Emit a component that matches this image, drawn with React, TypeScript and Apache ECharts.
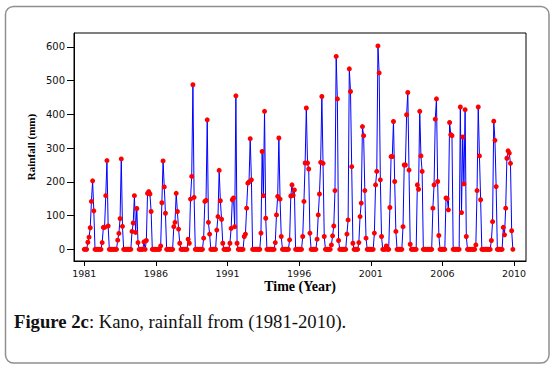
import { useEffect, useRef } from "react";
import * as echarts from "echarts";

// Monthly rainfall (mm), Kano, Jan..Dec for each year
const rain1981 = [0, 0, 0, 21, 36, 64, 142, 203, 114, 0, 0, 0];
const rain1982 = [0, 0, 0, 20, 65, 65, 159, 263, 69, 0, 0, 0];
const rain1983 = [0, 0, 0, 0, 27, 47, 91, 268, 68, 0, 0, 0];
const rain1984 = [0, 0, 0, 0, 53, 78, 159, 50, 121, 20, 0, 0];
const rain1985 = [0, 0, 22, 0, 26, 166, 171, 164, 112, 0, 0, 0];
const rain1986 = [0, 0, 0, 0, 10, 138, 262, 185, 107, 0, 0, 0];
const rain1987 = [0, 0, 0, 67, 80, 166, 112, 60, 18, 0, 0, 0];
const rain1988 = [0, 0, 0, 30, 18, 149, 216, 488, 154, 0, 0, 0];
const rain1989 = [0, 0, 0, 0, 33, 142, 145, 384, 80, 45, 0, 0];
const rain1990 = [0, 0, 0, 57, 97, 234, 144, 89, 18, 0, 0, 0];
const rain1991 = [0, 0, 18, 62, 147, 152, 67, 455, 18, 0, 0, 0];
const rain1992 = [0, 0, 38, 45, 122, 196, 200, 328, 206, 0, 0, 0];
const rain1993 = [0, 0, 0, 0, 48, 290, 159, 409, 92, 0, 0, 0];
const rain1994 = [0, 0, 0, 0, 20, 102, 157, 330, 149, 38, 0, 0];
const rain1995 = [0, 0, 0, 0, 28, 158, 191, 160, 176, 0, 0, 0];
const rain1996 = [0, 0, 0, 38, 142, 256, 419, 256, 238, 48, 0, 0];
const rain1997 = [0, 0, 0, 30, 102, 164, 258, 453, 255, 38, 0, 0];
const rain1998 = [0, 0, 0, 13, 40, 69, 174, 572, 446, 26, 0, 0];
const rain1999 = [0, 0, 0, 0, 45, 87, 535, 468, 245, 18, 0, 0];
const rain2000 = [0, 0, 20, 97, 137, 364, 337, 174, 33, 0, 0, 0];
const rain2001 = [0, 0, 0, 48, 191, 231, 603, 523, 206, 38, 0, 0];
const rain2002 = [0, 10, 0, 0, 124, 275, 275, 379, 201, 53, 0, 0];
const rain2003 = [0, 0, 0, 67, 250, 250, 399, 465, 235, 15, 0, 0];
const rain2004 = [0, 0, 0, 191, 178, 409, 277, 231, 0, 0, 0, 0];
const rain2005 = [0, 0, 0, 0, 122, 191, 386, 446, 201, 41, 0, 0];
const rain2006 = [0, 0, 0, 152, 150, 117, 376, 340, 337, 0, 0, 0];
const rain2007 = [0, 0, 0, 422, 109, 333, 194, 414, 38, 0, 0, 0];
const rain2008 = [0, 0, 0, 0, 13, 174, 422, 277, 147, 0, 0, 0];
const rain2009 = [0, 0, 0, 0, 0, 26, 82, 380, 323, 186, 0, 0];
const rain2010 = [0, 0, 0, 65, 43, 122, 270, 292, 285, 255, 55, 0];

const rainByYear = [
  rain1981, rain1982, rain1983, rain1984, rain1985, rain1986, rain1987, rain1988,
  rain1989, rain1990, rain1991, rain1992, rain1993, rain1994, rain1995, rain1996,
  rain1997, rain1998, rain1999, rain2000, rain2001, rain2002, rain2003, rain2004,
  rain2005, rain2006, rain2007, rain2008, rain2009, rain2010,
];

const xTickIndex = [0, 60, 120, 180, 240, 300, 360];
const xTickLabels = ["1981", "1986", "1991", "1996", "2001", "2006", "2010"];
const yTicks = [0, 100, 200, 300, 400, 500, 600];

export default function App() {
  const ref = useRef<HTMLDivElement>(null);

  useEffect(() => {
    if (!ref.current) return;
    const chart = echarts.init(ref.current, null, { renderer: "svg" });
    const data: number[][] = [];
    rainByYear.forEach((arr, yi) => {
      arr.forEach((v, mi) => data.push([yi * 12 + mi, v]));
    });

    chart.setOption({
      animation: false,
      backgroundColor: "#ffffff",
      grid: {
        left: 74,
        right: 29,
        top: 33,
        bottom: 109,
        show: true,
        borderColor: "#000",
        borderWidth: 1,
      },
      xAxis: {
        type: "value",
        min: -8.6,
        max: 370,
        axisLine: { show: true, onZero: false, lineStyle: { color: "#000", width: 1 } },
        axisTick: {
          show: true,
          customValues: xTickIndex,
          length: 5,
          lineStyle: { color: "#000" },
        },
        axisLabel: {
          customValues: xTickIndex,
          formatter: (v: number) => xTickLabels[xTickIndex.indexOf(v)] ?? "",
          fontFamily: "DejaVu Sans",
          fontSize: 9.5,
          color: "#111",
          margin: 7,
        },
        splitLine: { show: false },
      },
      yAxis: {
        type: "value",
        min: -34.7,
        max: 641.4,
        axisLine: { show: true, onZero: false, lineStyle: { color: "#000", width: 1 } },
        axisTick: {
          show: true,
          customValues: yTicks,
          length: 7,
          lineStyle: { color: "#000" },
        },
        axisLabel: {
          customValues: yTicks,
          formatter: (v: number) => String(v),
          fontFamily: "DejaVu Sans",
          fontSize: 10,
          color: "#111",
          margin: 9,
        },
        splitLine: { show: false },
      },
      series: [
        {
          type: "line",
          data,
          showSymbol: true,
          showAllSymbol: true,
          symbol: "circle",
          symbolSize: 5,
          itemStyle: { color: "#ff0000" },
          lineStyle: { color: "#0000ff", width: 1 },
          z: 3,
        },
      ],
      graphic: [
        {
          type: "rect",
          shape: { x: 5.5, y: 6.5, width: 543.5, height: 356.5, r: 8 },
          style: { fill: "none", stroke: "#8f8f8f", lineWidth: 1.5 },
          silent: true,
          z: -10,
        },
        {
          type: "text",
          x: 31,
          y: 147,
          rotation: Math.PI / 2,
          style: {
            text: "Rainfall (mm)",
            font: "bold 11px 'Liberation Serif', serif",
            fill: "#000",
            align: "center",
            verticalAlign: "middle",
          },
        },
        {
          type: "text",
          x: 300,
          y: 286,
          style: {
            text: "Time (Year)",
            font: "bold 14px 'Liberation Serif', serif",
            fill: "#000",
            align: "center",
            verticalAlign: "middle",
          },
        },
        {
          type: "text",
          x: 14,
          y: 321,
          style: {
            text: "{b|Figure 2c}: Kano, rainfall from (1981-2010).",
            font: "18.7px 'Liberation Serif', serif",
            fill: "#111",
            align: "left",
            verticalAlign: "middle",
            rich: {
              b: { font: "bold 18.7px 'Liberation Serif', serif", fill: "#111" },
            },
          },
        },
      ],
    });

    return () => chart.dispose();
  }, []);

  return (
    <div
      ref={ref}
      style={{ position: "fixed", left: 0, top: 0, width: 555, height: 370, background: "#fff" }}
    />
  );
}
